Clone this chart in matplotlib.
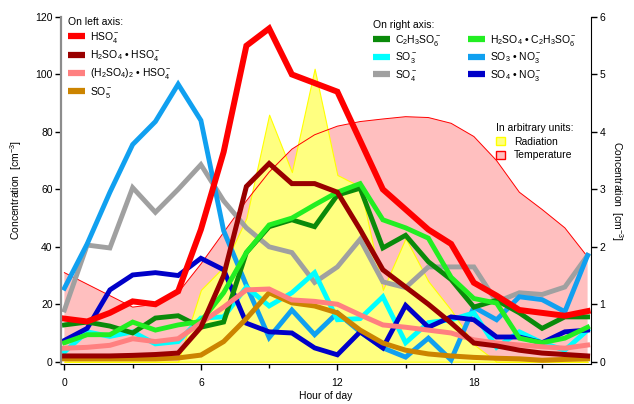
import numpy as np
import matplotlib.pyplot as plt
from matplotlib.lines import Line2D
from matplotlib.patches import Patch

plt.rcParams['font.family'] = ['Liberation Sans', 'DejaVu Sans']
plt.rcParams['mathtext.fontset'] = 'custom'
plt.rcParams['mathtext.rm'] = 'Liberation Sans'
plt.rcParams['mathtext.it'] = 'Liberation Sans'
plt.rcParams['mathtext.default'] = 'regular'
plt.rcParams['font.size'] = 7.5

# --- data ---
hours = np.arange(24)

# left axis [cm-3]
hso4 = [15, 14, 17, 21, 20, 24.5, 46, 73, 110, 116, 100, 97, 94, 77, 60, 53, 46, 41, 27.5, 23, 18, 17, 16, 17.6]
h2so4_hso4 = [2, 2, 2, 2.2, 2.5, 3, 12, 30, 61, 69, 62, 62, 59, 46, 32, 26, 20, 13.5, 6.5, 5.5, 4, 3, 2.5, 2]
h2so4_2_hso4 = [4.7, 5, 5.7, 8, 7, 8, 13.5, 19, 25, 25.3, 21.5, 21, 20, 16.3, 12.8, 12, 11, 10, 7.6, 6.5, 5.8, 5.2, 4.7, 5.8]
so5 = [1, 1, 1, 1, 1, 1.3, 2.3, 7, 15, 24, 20.5, 19.4, 17, 11, 6.5, 4, 2.7, 2, 1.5, 1.2, 1, 0.5, 0.8, 1]

# right axis [cm-3]
c2h3so6 = [0.64, 0.69, 0.62, 0.50, 0.76, 0.80, 0.60, 0.69, 1.9, 2.35, 2.47, 2.35, 2.9, 3.02, 1.98, 2.2, 1.74, 1.43, 0.95, 1.07, 0.85, 0.58, 0.78, 0.78]
h2so4_c2h3so6 = [0.33, 0.47, 0.47, 0.69, 0.55, 0.64, 0.70, 1.2, 1.9, 2.38, 2.5, 2.73, 2.95, 3.1, 2.47, 2.33, 2.15, 1.47, 1.1, 1.02, 0.41, 0.33, 0.41, 0.6]
so3 = [0.17, 0.52, 0.44, 0.52, 0.31, 0.35, 0.76, 0.78, 1.3, 0.97, 1.2, 1.55, 0.73, 0.75, 1.13, 0.33, 0.68, 0.73, 0.85, 0.25, 0.52, 0.33, 0.2, 0.55]
so3_no3 = [1.28, 2.05, 2.95, 3.78, 4.18, 4.83, 4.2, 2.28, 1.33, 0.42, 0.9, 0.47, 0.85, 0.52, 0.24, 0.08, 0.41, 0.03, 0.95, 0.73, 1.13, 1.08, 0.87, 1.85]
so4 = [0.9, 2.03, 1.98, 3.03, 2.6, 3.0, 3.43, 2.8, 2.33, 2.0, 1.9, 1.38, 1.65, 2.13, 1.39, 1.29, 1.65, 1.65, 1.65, 1.04, 1.2, 1.17, 1.3, 1.85]
so4_no3 = [0.37, 0.58, 1.25, 1.51, 1.55, 1.5, 1.8, 1.6, 0.67, 0.52, 0.5, 0.24, 0.12, 0.52, 0.24, 0.98, 0.6, 0.78, 0.73, 0.43, 0.43, 0.33, 0.52, 0.55]

# arbitrary units
radiation = [0, 0, 0, 0, 0, 0, 25, 33, 50, 86, 66, 102, 65, 61, 25, 43, 28, 18, 6, 0, 0, 0, 0, 0]
temperature = [31, 27, 23, 19, 20, 24, 34, 45, 56, 66, 74, 79, 82, 83.6, 84.5, 85.3, 85, 83, 78.4, 70, 59, 53, 46.6, 36.5]

# --- figure ---
fig = plt.figure(figsize=(6.34, 4.04), dpi=100)
ax = fig.add_axes([61 / 634, 40 / 404, 530 / 634, 347 / 404])
ax2 = ax.twinx()
ax3 = ax.twinx()
ax3.set_zorder(0)
ax2.set_zorder(1)
ax.set_zorder(2)
ax.patch.set_visible(False)
ax2.patch.set_visible(False)

# fills in arbitrary units
ax3.fill_between(hours, temperature, color='#ffbfbf', edgecolor='none')
ax3.plot(hours, temperature, color='#ff0000', lw=0.7)
ax3.fill_between(hours, radiation, color='#ffff80', edgecolor='#ffff00', lw=0.8)
ax3.set_ylim(-0.8, 120)
ax3.axis('off')

# right axis series
right = [
    (c2h3so6, '#0a8a0a', r'C$_2$H$_3$SO$_6^-$'),
    (so3, '#00ffff', r'SO$_3^-$'),
    (so4, '#a0a0a0', r'SO$_4^-$'),
    (h2so4_c2h3so6, '#22ee22', r'H$_2$SO$_4$ • C$_2$H$_3$SO$_6^-$'),
    (so3_no3, '#10a0f0', r'SO$_3$ • NO$_3^-$'),
    (so4_no3, '#0000c8', r'SO$_4$ • NO$_3^-$'),
]
draw_order = [2, 4, 1, 5, 0, 3]
for i in draw_order:
    vals, col, lab = right[i]
    ax2.plot(hours, vals, color=col, lw=3.5, solid_joinstyle='miter')

# left axis series
left = [
    (hso4, '#ff0000', r'HSO$_4^-$', 4.3),
    (h2so4_hso4, '#990000', r'H$_2$SO$_4$ • HSO$_4^-$', 3.6),
    (h2so4_2_hso4, '#ff8080', r'(H$_2$SO$_4$)$_2$ • HSO$_4^-$', 3.6),
    (so5, '#cc8400', r'SO$_5^-$', 3.6),
]
for vals, col, lab, lw in [left[3], left[2], left[1], left[0]]:
    ax.plot(hours, vals, color=col, lw=lw, solid_joinstyle='miter')

ax.set_xlim(-0.15, 23.15)
ax.set_ylim(-0.8, 120)
ax2.set_ylim(-0.04, 6)
ax.set_xticks([0, 6, 12, 18])
ax.set_xticks([3, 9, 15, 21], minor=True)
ax.set_yticks(np.arange(0, 121, 20))
ax2.set_yticks(np.arange(0, 7, 1))
for a in (ax, ax2):
    a.spines['top'].set_visible(False)
ax.spines['right'].set_visible(False)
ax.spines['left'].set_color('#8c8c8c')
ax.spines['left'].set_linewidth(1.6)
ax2.spines['left'].set_visible(False)
ax2.spines['bottom'].set_visible(False)
ax.tick_params(axis='both', which='major', direction='out', length=4, width=1, pad=2)
ax.tick_params(axis='x', which='minor', direction='out', length=3, width=1)
ax.tick_params(axis='x', pad=6)
ax2.tick_params(axis='y', direction='out', length=4, width=1, pad=2)

ax.set_xlabel('Hour of day', labelpad=2)
ax.set_ylabel(r'Concentration  [cm$^{-3}$]', labelpad=8)
ax2.set_ylabel(r'Concentration  [cm$^{-3}$]', rotation=270, labelpad=14)

# legends
hl = [Line2D([], [], color=c, lw=4.5, solid_capstyle='butt') for _, c, _, _ in left]
leg1 = ax.legend(hl, [l for _, _, l, _ in left], title='On left axis:', loc='upper left',
                 bbox_to_anchor=(68 / 634, 1 - 17 / 404), bbox_transform=fig.transFigure,
                 frameon=False, handlelength=1.6, handletextpad=0.5, labelspacing=0.3,
                 borderpad=0, borderaxespad=0, alignment='left', fontsize=7.5,
                 title_fontsize=7.5)
ax.add_artist(leg1)

hr = [Line2D([], [], color=c, lw=4.5, solid_capstyle='butt') for _, c, _ in right]
leg2 = ax.legend(hr, [l for _, _, l in right], title='On right axis:', loc='upper left', ncol=2,
                 bbox_to_anchor=(373 / 634, 1 - 20 / 404), bbox_transform=fig.transFigure,
                 frameon=False, handlelength=1.6, handletextpad=0.5, labelspacing=0.25,
                 columnspacing=2.6, borderpad=0, borderaxespad=0, alignment='left',
                 fontsize=7.5, title_fontsize=7.5)
ax.add_artist(leg2)

hp = [Patch(facecolor='#ffff80', edgecolor='#ffff00'), Patch(facecolor='#ffbfbf', edgecolor='#ff0000')]
leg3 = ax.legend(hp, ['Radiation', 'Temperature'], title='In arbitrary units:', loc='upper left',
                 bbox_to_anchor=(496 / 634, 1 - 123 / 404), bbox_transform=fig.transFigure,
                 frameon=False, handlelength=0.9, handleheight=0.8, handletextpad=0.8,
                 labelspacing=0.35, borderpad=0, borderaxespad=0, alignment='left',
                 fontsize=7.5, title_fontsize=7.5)

fig.savefig('out.png', dpi=100)
